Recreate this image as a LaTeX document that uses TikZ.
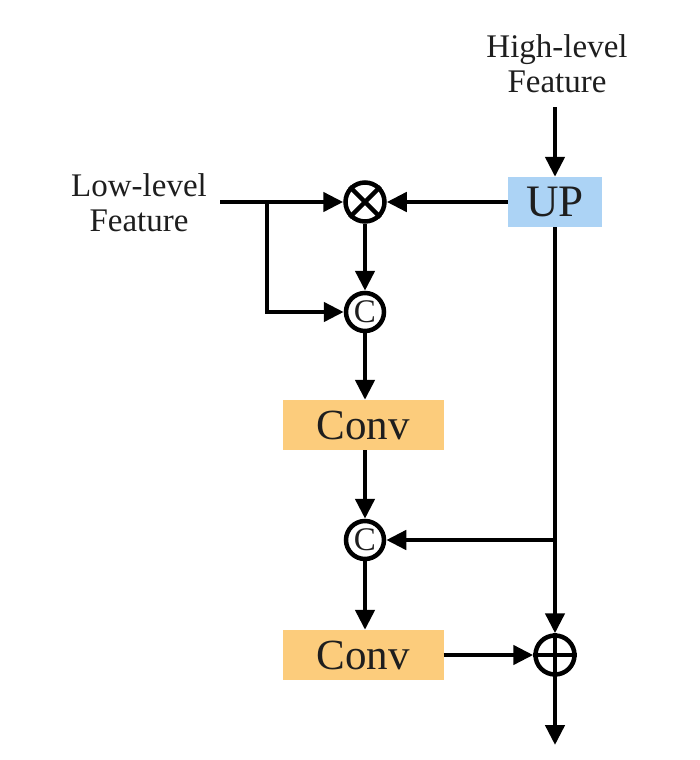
\documentclass[tikz,border=0pt]{standalone}
\usepackage{fontspec}
\setmainfont{Liberation Serif}
\usetikzlibrary{arrows.meta}
\definecolor{upblue}{RGB}{172,211,245}
\definecolor{convorange}{RGB}{252,204,124}
\definecolor{txt}{RGB}{30,30,30}
\tikzset{
  conn/.style={line width=4.5pt,-{Triangle[length=20pt,width=19pt]}},
  opcirc/.style={circle,draw,line width=4.5pt,minimum size=39pt,inner sep=0pt},
  catcirc/.style={circle,draw,line width=4.5pt,minimum size=38pt,inner sep=0pt,text=txt,font=\fontsize{33}{33}\selectfont},
  convbox/.style={fill=convorange,minimum width=161pt,minimum height=50pt,inner sep=0pt,text=txt,font=\fontsize{43}{43}\selectfont},
  upbox/.style={fill=upblue,minimum width=94pt,minimum height=50pt,inner sep=0pt,text=txt,font=\fontsize{45}{45}\selectfont},
  lbl/.style={align=center,text=txt,font=\fontsize{33}{35}\selectfont}
}
\begin{document}
\begin{tikzpicture}[x=1pt,y=-1pt]
\useasboundingbox (0,0) rectangle (699,760);
\node[lbl] (high) at (557,64) {High-level\\Feature};
\node[lbl] (low) at (139,203) {Low-level\\Feature};
\node[upbox] (up) at (555,202) {UP};
\node[opcirc] (mul) at (365,202) {};
\draw[line width=4.5pt] (mul.45) -- (mul.225) (mul.135) -- (mul.315);
\node[catcirc] (c1) at (365,312) {C};
\node[convbox] (conv1) at (363,425) {Conv};
\node[catcirc] (c2) at (365,540) {C};
\node[convbox] (conv2) at (363,655) {Conv};
\node[opcirc] (add) at (555,655) {};
\draw[line width=4.5pt] (add.north) -- (add.south) (add.west) -- (add.east);
\coordinate (hin) at (555,107);
\coordinate (lin) at (220,202);
\coordinate (br) at (267,202);
\coordinate (br2) at (555,540);
\coordinate (out) at (555,745);
\draw[conn] (hin) -- (up.north);
\draw[conn] (lin) -- (mul.west);
\draw[conn] (up.west) -- (mul.east);
\draw[conn] (br) |- (c1.west);
\draw[conn] (mul.south) -- (c1.north);
\draw[conn] (c1.south) -- (conv1.north -| c1);
\draw[conn] (conv1.south -| c2) -- (c2.north);
\draw[conn] (br2) -- (c2.east);
\draw[conn] (c2.south) -- (conv2.north -| c2);
\draw[conn] (up.south) -- (add.north);
\draw[conn] (conv2.east) -- (add.west);
\draw[conn] (add.south) -- (out);
\end{tikzpicture}
\end{document}
